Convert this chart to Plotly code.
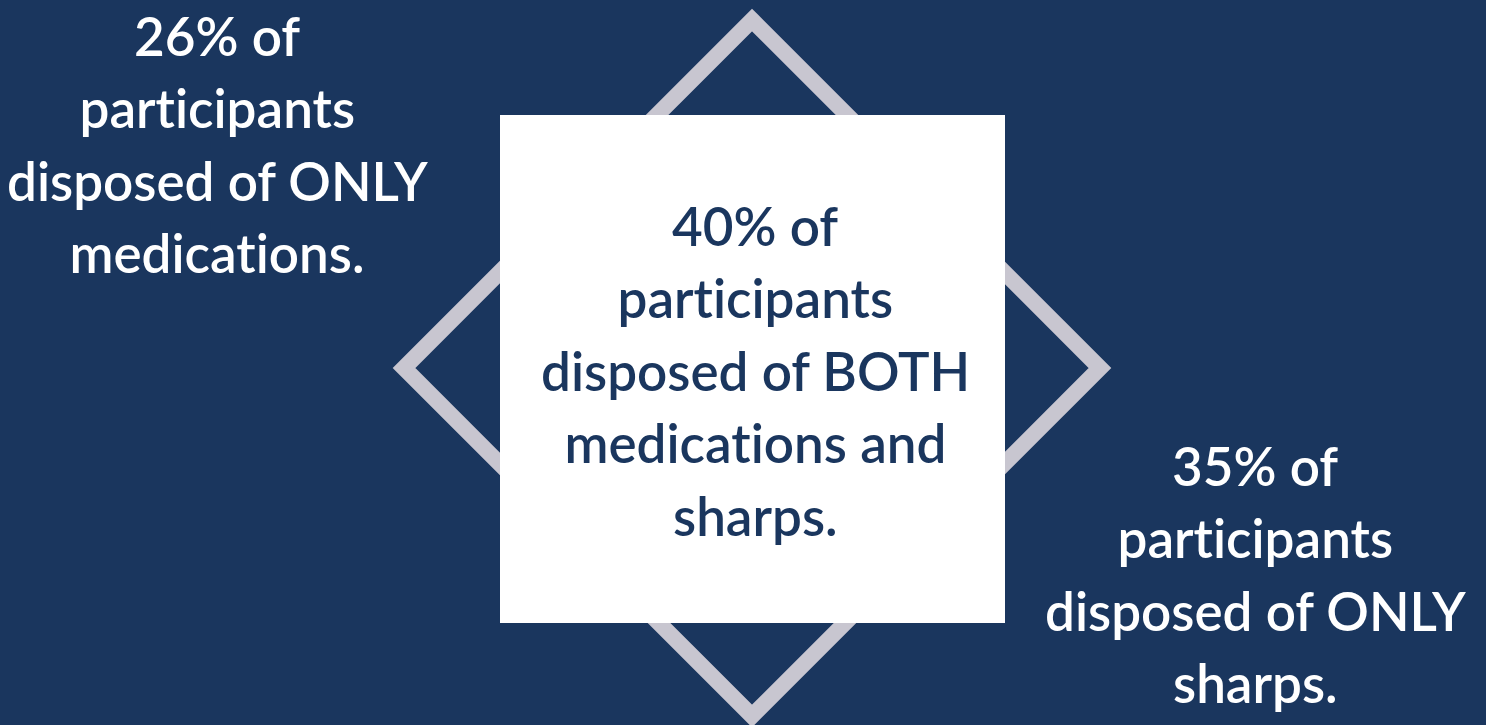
import plotly.graph_objects as go

# ---- data ----
percentages = [26, 40, 35]
categories = ["ONLY medications", "BOTH medications and sharps", "ONLY sharps"]
block_lines = [
    ["26% of", "participants", "disposed of ONLY", "medications."],
    ["40% of", "participants", "disposed of BOTH", "medications and", "sharps."],
    ["35% of", "participants", "disposed of ONLY", "sharps."],
]

# ---- layout / style ----
W, H = 1486, 725
BG = "#1A365E"
LINE = "#C8C6D0"
WHITE = "#FFFFFF"
FONT = "Lato"
FSIZE = 53
LINE_GAP = 72.5
BASE_OFFSET = 20  # baseline minus annotation middle

block_pos = [  # (center x, first baseline)
    (217, 55),
    (755, 245),
    (1255, 485),
]
block_color = [WHITE, BG, WHITE]

fig = go.Figure()
fig.add_trace(go.Scatter(x=[0, W], y=[0, H], mode="markers",
                         marker=dict(opacity=0), hoverinfo="skip", showlegend=False))

cx, cy, r, lw = 752, 368, 348, 16
fig.add_shape(type="path",
              path=f"M {cx} {cy - r} L {cx + r} {cy} L {cx} {cy + r} L {cx - r} {cy} Z",
              line=dict(color=LINE, width=lw), fillcolor="rgba(0,0,0,0)", layer="below")
fig.add_shape(type="rect", x0=500, x1=1005, y0=115, y1=623,
              fillcolor=WHITE, line=dict(width=0), layer="below")

for (bx, by), col, lines in zip(block_pos, block_color, block_lines):
    for i, t in enumerate(lines):
        fig.add_annotation(x=bx, y=by + i * LINE_GAP - BASE_OFFSET, text=t,
                           showarrow=False, xanchor="center", yanchor="middle",
                           font=dict(family=FONT, size=FSIZE, color=col, weight=600))

fig.update_xaxes(range=[0, W], visible=False, fixedrange=True)
fig.update_yaxes(range=[H, 0], visible=False, fixedrange=True)
fig.update_layout(width=W, height=H, margin=dict(l=0, r=0, t=0, b=0),
                  paper_bgcolor=BG, plot_bgcolor=BG, showlegend=False)

post = """
var s = document.createElement('style');
s.innerHTML = 'html,body{margin:0;padding:0;background:%s;overflow:hidden}' +
  '.main-svg text{font-variant-ligatures:none !important;font-feature-settings:"liga" 0 !important}';
document.head.appendChild(s);
""" % BG

fig.write_html("out.html", config={"displayModeBar": False}, post_script=post)
